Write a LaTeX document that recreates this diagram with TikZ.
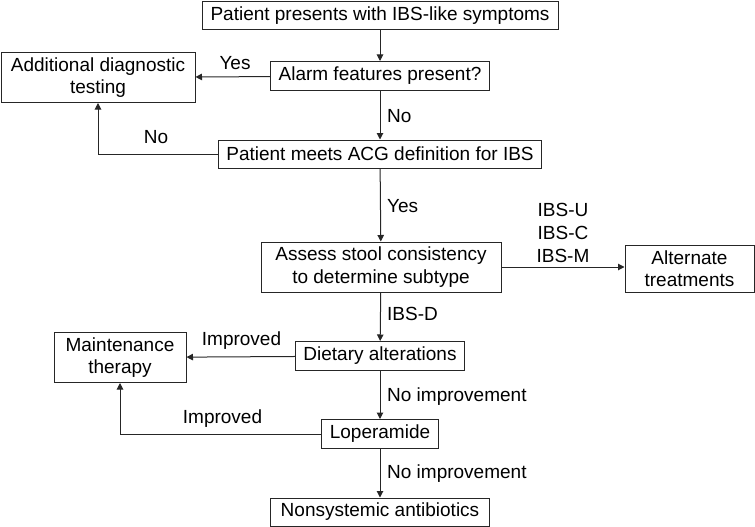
\documentclass[tikz,border=0pt]{standalone}
\usepackage{fontspec}
\setmainfont{Liberation Sans}
\usetikzlibrary{arrows.meta}
\begin{document}
\begin{tikzpicture}[x=1pt,y=-1pt,
  every node/.style={font=\fontsize{19}{22.5}\selectfont, inner sep=0pt},
  box/.style={draw=black!85, line width=1pt, align=center, minimum width=#1},
  box/.default=100pt,
  lbl/.style={anchor=west},
  arr/.style={draw=black!85, line width=1pt, -{Triangle[length=6.5pt,width=6.5pt]}}]
\useasboundingbox (0,0) rectangle (755,527);
% boxes
\node[box=356, minimum height=28] (p1) at (380,16) {Patient presents with IBS-like symptoms};
\node[box=219, minimum height=29] (alarm) at (380,76) {Alarm features present?};
\node[box=194, minimum height=50] (add) at (98,77.5) {Additional diagnostic\\testing};
\node[box=323, minimum height=28] (acg) at (380,154) {Patient meets ACG definition for IBS};
\node[box=240, minimum height=50] (assess) at (381,267) {Assess stool consistency\\to determine subtype};
\node[box=129, minimum height=47] (alt) at (689.5,268.5) {Alternate\\treatments};
\node[box=169, minimum height=29] (diet) at (380,356) {Dietary alterations};
\node[box=132, minimum height=50] (maint) at (120,357.5) {Maintenance\\therapy};
\node[box=117, minimum height=29] (loper) at (380,434) {Loperamide};
\node[box=219, minimum height=28] (nonsys) at (380,512) {Nonsystemic antibiotics};
% connectors
\draw[arr] (p1) -- (alarm);
\draw[arr] (alarm) -- (add);
\draw[arr] (alarm) -- (acg);
\draw[arr] (acg.west) -| (add.south);
\draw[arr] (acg) -- (assess);
\draw[arr] (assess.east) -- (assess.east -| alt.west);
\draw[arr] (assess) -- (diet);
\draw[arr] (diet) -- (maint);
\draw[arr] (diet) -- (loper);
\draw[arr] (loper.west) -| (maint.south);
\draw[arr] (loper) -- (nonsys);
% labels
\node (lyes1) at (235,63) {Yes};
\node (lno1) at (156,137) {No};
\node[lbl] (lno2) at (387,116.5) {No};
\node[lbl] (lyes2) at (387,206.5) {Yes};
\node (lu) at (563,210) {IBS-U};
\node (lc) at (563,232.5) {IBS-C};
\node (lm) at (563,255.5) {IBS-M};
\node[lbl] (ld) at (387,313.5) {IBS-D};
\node (limp1) at (241.5,341) {Improved};
\node[lbl] (lni1) at (387,396.5) {No improvement};
\node (limp2) at (222.5,419) {Improved};
\node[lbl] (lni2) at (387,473.5) {No improvement};
\end{tikzpicture}
\end{document}
